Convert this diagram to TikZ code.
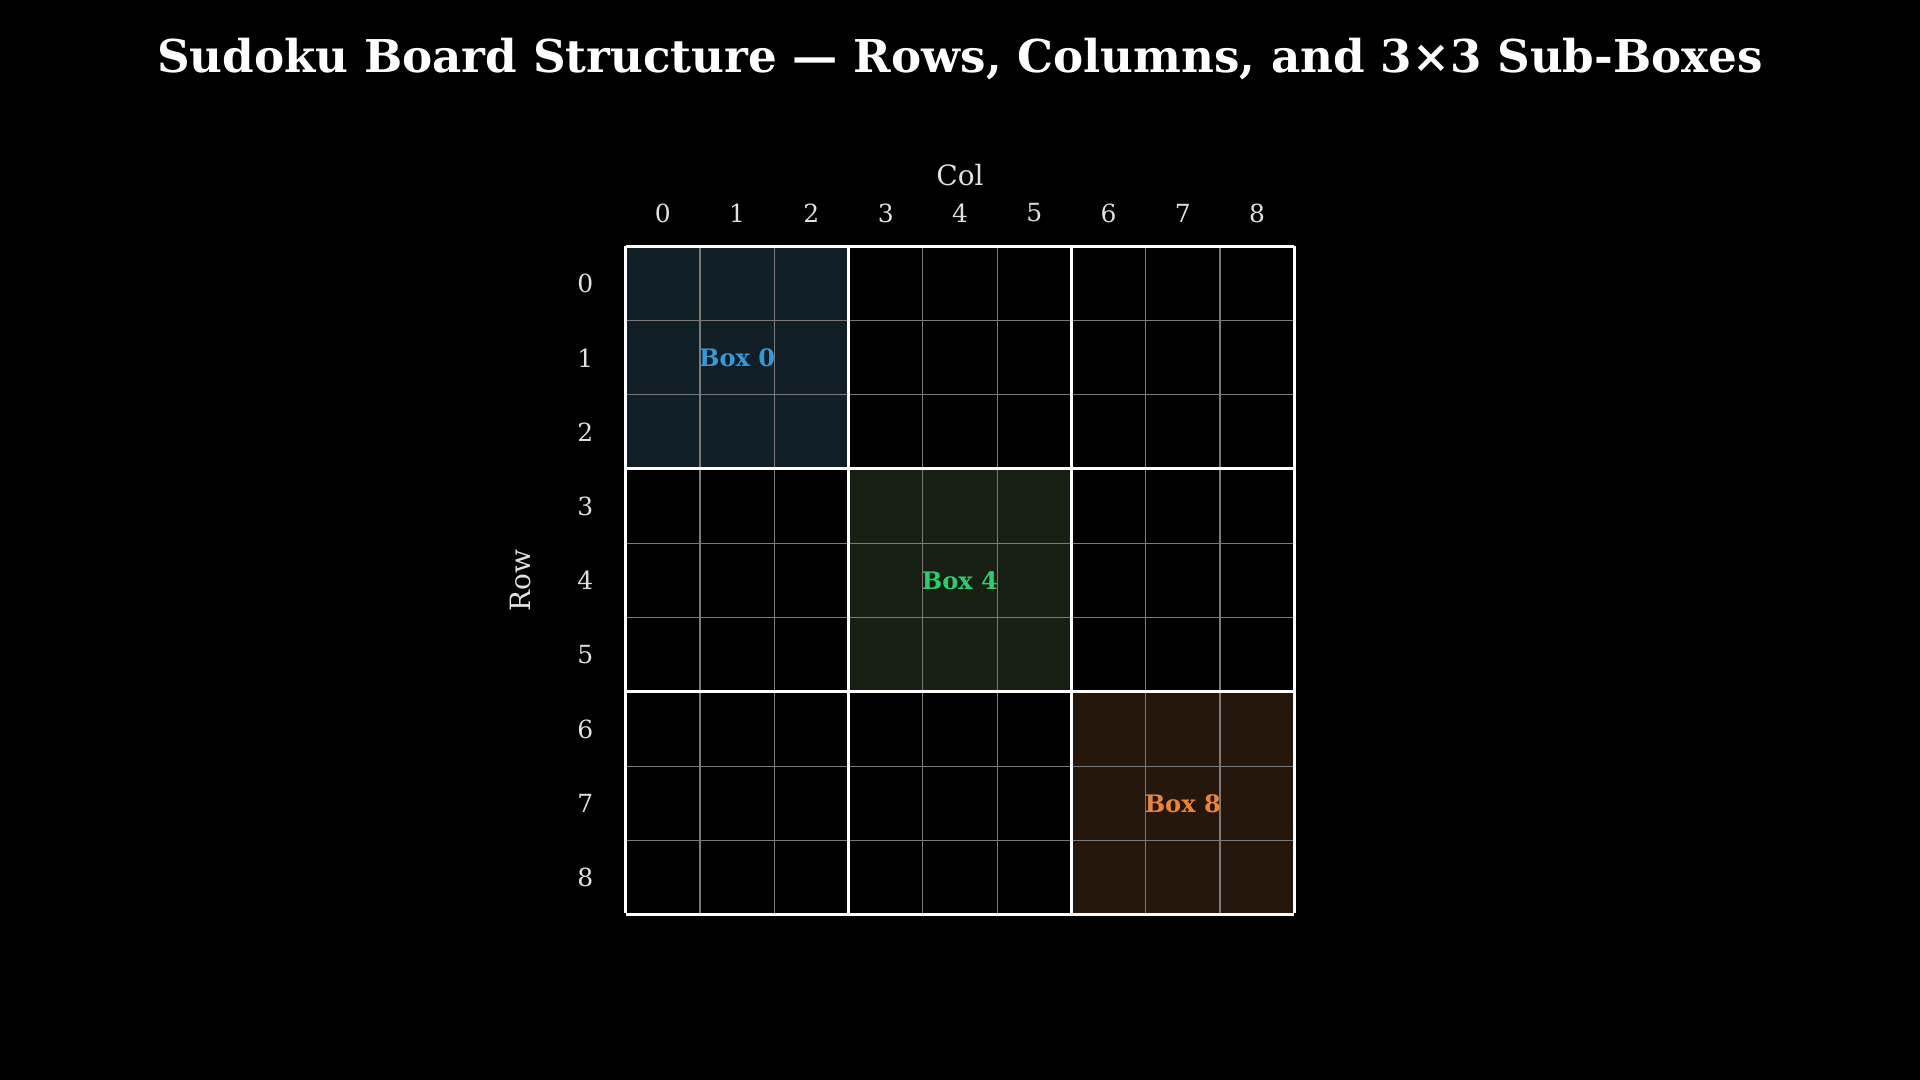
\documentclass[tikz,border=0pt]{standalone}
\usepackage{fontspec}
\setmainfont{DejaVu Serif}
\definecolor{bzero}{HTML}{0F1F25}
\definecolor{bfour}{HTML}{161F12}
\definecolor{beight}{HTML}{26170C}
\definecolor{lzero}{HTML}{3A97D4}
\definecolor{lfour}{HTML}{2ECC71}
\definecolor{leight}{HTML}{E8863A}
\definecolor{gridgrey}{HTML}{7A7A7A}
\begin{document}
\begin{tikzpicture}[x=0.01cm,y=-0.01cm,
  lab/.style={text=white!88!black,font=\fontsize{5.8pt}{7pt}\selectfont},
  boxlab/.style={font=\bfseries\fontsize{5.6pt}{7pt}\selectfont}]
\fill[black] (0,0) rectangle (1568,882);
\useasboundingbox (0,0) rectangle (1568,882);
\def\c{60.667}
\node[text=white,font=\bfseries\fontsize{10.5pt}{12pt}\selectfont] (title) at (784,48) {Sudoku Board Structure — Rows, Columns, and 3×3 Sub-Boxes};
\fill[bzero] (511,201) rectangle ++(3*\c,3*\c);
\fill[bfour] (511+3*\c,201+3*\c) rectangle ++(3*\c,3*\c);
\fill[beight] (511+6*\c,201+6*\c) rectangle ++(3*\c,3*\c);
\foreach \i in {1,2,4,5,7,8}{
  \draw[draw=gridgrey,line width=0.25pt] (511+\i*\c,201) -- (511+\i*\c,746);
  \draw[draw=gridgrey,line width=0.25pt] (511,201+\i*\c) -- (1057,201+\i*\c);
}
\foreach \i in {0,3,6,9}{
  \draw[white,line width=0.7pt] (511+\i*\c,201) -- (511+\i*\c,746);
  \draw[white,line width=0.7pt] (511,201+\i*\c) -- (1057,201+\i*\c);
}
\foreach \i in {0,...,8}{
  \node[lab] (c\i) at (511+\c/2+\i*\c,174) {\i};
  \node[lab] (r\i) at (478,231.5+\i*\c) {\i};
}
\node[lab,font=\fontsize{6.5pt}{8pt}\selectfont] (col) at (784,143) {Col};
\node[lab,font=\fontsize{6.5pt}{8pt}\selectfont,rotate=90] (row) at (425,474) {Row};
\node[boxlab,text=lzero] (b0) at (511+1.5*\c,292) {Box 0};
\node[boxlab,text=lfour] (b4) at (511+4.5*\c,474) {Box 4};
\node[boxlab,text=leight] (b8) at (511+7.5*\c,656) {Box 8};
\end{tikzpicture}
\end{document}
